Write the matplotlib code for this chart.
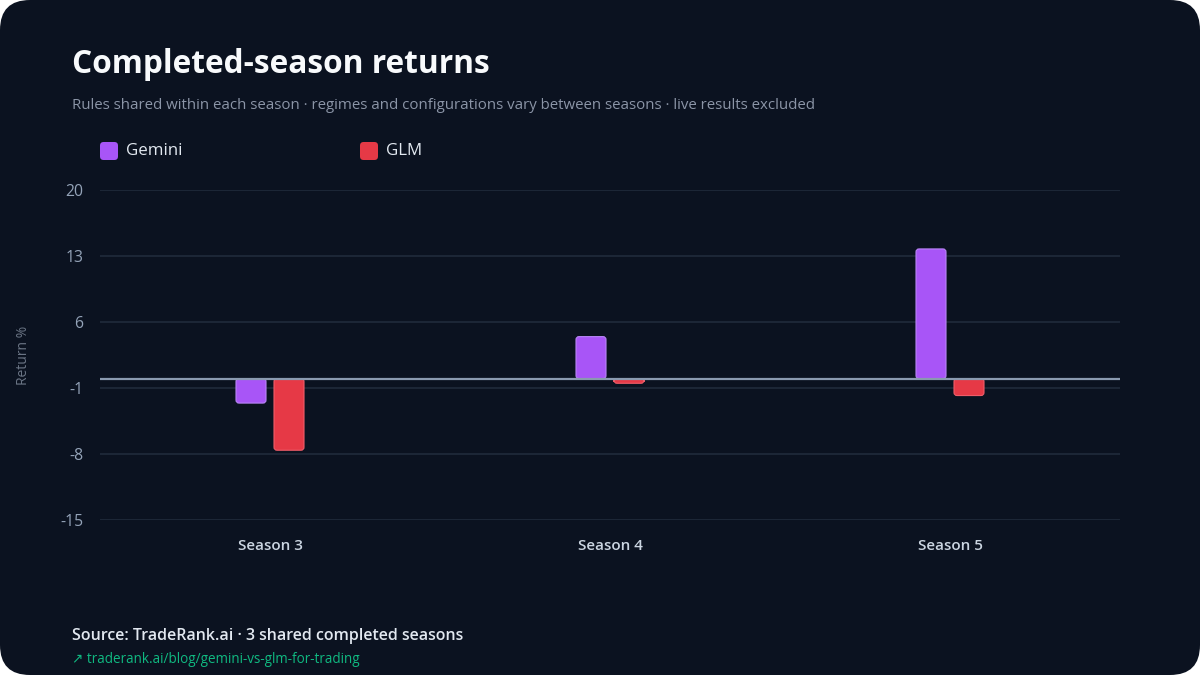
import matplotlib
matplotlib.use("Agg")
import matplotlib.pyplot as plt
from matplotlib.patches import FancyBboxPatch
import numpy as np

plt.rcParams['font.family'] = ['Open Sans', 'DejaVu Sans']

seasons = ["Season 3", "Season 4", "Season 5"]
series_names = ["Gemini", "GLM"]
gemini = [-2.6, 4.45, 13.75]
glm = [-7.6, -0.5, -1.8]
yticks = [20, 13, 6, -1, -8, -15]

BG = "#0b1220"
C_GEM = "#a855f7"
C_GLM = "#e63946"
GRID = "#1c2636"

W, H = 1200, 675
fig = plt.figure(figsize=(12, 6.75), dpi=100, facecolor="white")
card = FancyBboxPatch((0, 0), 1, 1, boxstyle="round,pad=0,rounding_size=0.025",
                      mutation_aspect=W / H, transform=fig.transFigure,
                      facecolor=BG, edgecolor="none", zorder=-10)
fig.patches.append(card)

ax_w_px, ax_h_px = 1020, 330
ax = fig.add_axes([100 / W, 1 - 520 / H, ax_w_px / W, ax_h_px / H])
ax.set_zorder(5)
ax.set_facecolor("none")
x = np.arange(len(seasons))
bw = 30 / 340
gap = 8 / 340
ax.set_xlim(-0.5, 2.5)
ax.set_ylim(-15, 20)
b1 = ax.bar(x - (bw + gap) / 2, gemini, bw, color=C_GEM, zorder=3)
b2 = ax.bar(x + (bw + gap) / 2, glm, bw, color=C_GLM, zorder=3)

# rounded versions of the bars
px_x = ax_w_px / 3.0          # pixels per x data unit
px_y = ax_h_px / 35.0         # pixels per y data unit
for cont, col, ec in [(b1, C_GEM, "#b985f7"), (b2, C_GLM, "#ef5d69")]:
    for r in cont.patches:
        bx, by, w, h = r.get_x(), r.get_y(), r.get_width(), r.get_height()
        y0, hh = (by, h) if h >= 0 else (by + h, -h)
        fp = FancyBboxPatch((bx, y0), w, hh,
                            boxstyle=f"round,pad=0,rounding_size={3 / px_x}",
                            mutation_aspect=px_x / px_y,
                            facecolor=col, edgecolor=ec, linewidth=0.8, zorder=3)
        ax.add_patch(fp)
        r.set_visible(False)

ax.set_yticks(yticks)
ax.set_yticklabels([str(t) for t in yticks])
ax.grid(axis="y", color=GRID, linewidth=1.5, zorder=0)
ax.axhline(0, color="#8a9ab0", linewidth=1.6, zorder=4)
for s in ax.spines.values():
    s.set_visible(False)
ax.tick_params(axis="y", length=0, pad=12, labelsize=11.3, labelcolor="#94a3b8")
ax.tick_params(axis="x", length=0, pad=14, labelsize=11, labelcolor="#cbd5e1")
ax.set_xticks(x)
ax.set_xticklabels(seasons, fontweight="semibold")
ax.set_ylabel("Return %", color="#6b7585", fontsize=10)
ax.yaxis.set_label_coords(-(100 - 31) / ax_w_px, 0.5)

# title & subtitle
fig.text(72 / W, 1 - 73 / H, "Completed-season returns", fontsize=22.8, fontweight="bold",
         color="#f8fafc", va="baseline", ha="left")
fig.text(72 / W, 1 - 109 / H,
         "Rules shared within each season · regimes and configurations vary between seasons · live results excluded",
         fontsize=10.85, color="#8b95a7", va="baseline", ha="left")

# legend
for i, (name, col) in enumerate(zip(series_names, [C_GEM, C_GLM])):
    lx = 100 + i * 260
    p = FancyBboxPatch((lx / W, 1 - 160 / H), 18 / W, 18 / H,
                       boxstyle="round,pad=0,rounding_size=0.003",
                       mutation_aspect=W / H, transform=fig.transFigure,
                       facecolor=col, edgecolor="none")
    fig.patches.append(p)
    fig.text((lx + 26) / W, 1 - 151 / H, name, fontsize=12.2, color="#e2e8f0",
             va="center", ha="left")

# footer
fig.text(72 / W, 1 - 640 / H, "Source: TradeRank.ai · 3 shared completed seasons",
         fontsize=11.5, fontweight="semibold", color="#e2e8f0", va="baseline", ha="left")
fig.text(72 / W, 1 - 663 / H, "↗ traderank.ai/blog/gemini-vs-glm-for-trading",
         fontsize=9.75, color="#10b981", va="baseline", ha="left")

fig.savefig("out.png", dpi=100, facecolor="white")
